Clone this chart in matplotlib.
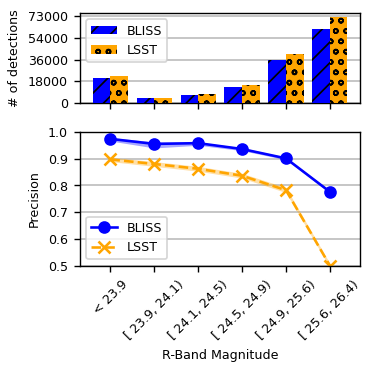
import matplotlib
matplotlib.use("Agg")
import matplotlib.pyplot as plt
import numpy as np

categories = ["< 23.9", "[ 23.9, 24.1)", "[ 24.1, 24.5)", "[ 24.5, 24.9)", "[ 24.9, 25.6)", "[ 25.6, 26.4)"]
bliss_counts = [21000, 4200, 6600, 12800, 35500, 62000]
lsst_counts = [22700, 4200, 7400, 15000, 40500, 71500]
count_ticks = [0, 18000, 36000, 54000, 73000]

bliss_prec = [0.974, 0.955, 0.958, 0.936, 0.901, 0.776]
bliss_lo = [0.966, 0.940, 0.950, 0.930, 0.896, 0.771]
bliss_hi = [0.979, 0.963, 0.962, 0.941, 0.905, 0.781]
lsst_prec = [0.897, 0.880, 0.862, 0.836, 0.782, 0.500]
lsst_lo = [0.889, 0.871, 0.853, 0.827, 0.773, 0.492]
lsst_hi = [0.905, 0.889, 0.871, 0.845, 0.792, 0.508]
prec_ticks = [0.5, 0.6, 0.7, 0.8, 0.9, 1.0]

plt.rcParams['font.size'] = 7.3
plt.rcParams['hatch.linewidth'] = 1.0

fig = plt.figure(figsize=(3.0, 3.0), dpi=124.4)
ax1 = fig.add_axes([0.2145, 0.7247, 0.7505, 0.2396])
ax2 = fig.add_axes([0.2145, 0.288, 0.7505, 0.358])

x = np.arange(len(categories))
w = 0.4
ax1.bar(x - w / 2, bliss_counts, w, color="blue", hatch="//", label="BLISS", zorder=3)
ax1.bar(x + w / 2, lsst_counts, w, color="orange", hatch="oo", label="LSST", zorder=3)
ax1.set_yticks(count_ticks)
ax1.set_xticks(x)
ax1.set_xticklabels([])
ax1.set_ylabel("# of detections")
ax1.yaxis.grid(True, color="0.75", lw=1.0, zorder=0)
ax1.set_axisbelow(True)
ax1.legend(loc="upper left")

ax2.fill_between(x, bliss_lo, bliss_hi, color="blue", alpha=0.35, lw=0)
ax2.fill_between(x, lsst_lo, lsst_hi, color="orange", alpha=0.35, lw=0)
ax2.plot(x, bliss_prec, color="blue", marker="o", ls="-", markersize=6.3, label="BLISS")
ax2.plot(x, lsst_prec, color="orange", marker="x", ls="--", markersize=6.5, mew=1.5, label="LSST")
ax2.set_ylim(0.5, 1.0)
ax2.set_yticks(prec_ticks)
ax2.set_xlim(ax1.get_xlim())
ax2.set_xticks(x)
ax2.set_xticklabels(categories, rotation=45)
ax2.set_ylabel("Precision")
ax2.set_xlabel("R-Band Magnitude")
ax2.yaxis.grid(True, color="0.75", lw=1.0)
ax2.set_axisbelow(True)
ax2.legend(loc="lower left")

fig.savefig("out.png", dpi=124.4)
